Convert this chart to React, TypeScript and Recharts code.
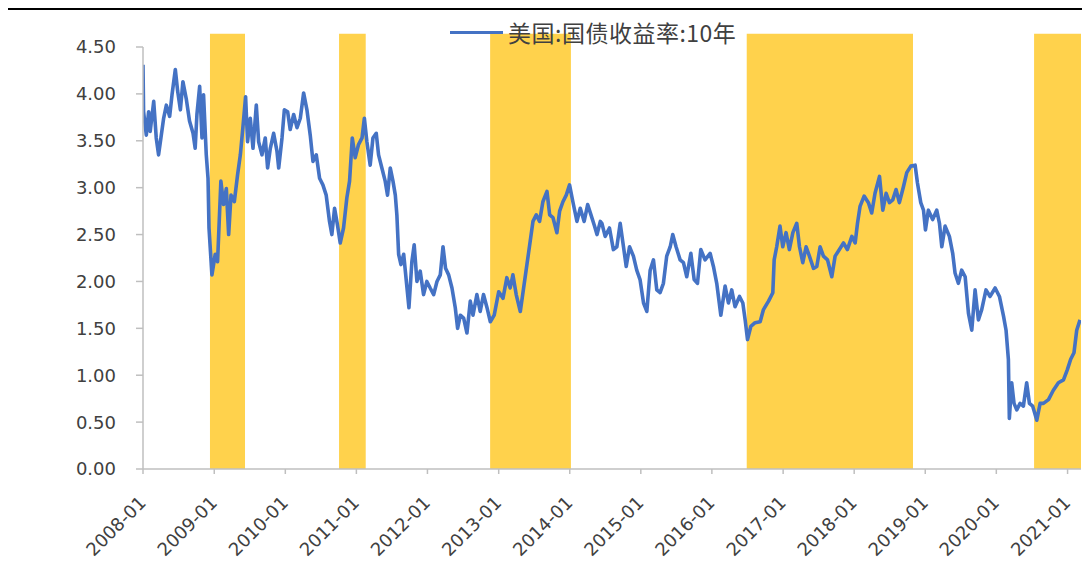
import React from "react";
import {
  ComposedChart,
  Line,
  XAxis,
  YAxis,
  ReferenceArea,
  Legend,
} from "recharts";

// US 10y treasury yield: observation day (days since 2008-01-01) and yield in %
const daysSince2008 = [
  0, 3, 17, 29, 37, 55, 68, 80, 92, 106, 120, 137, 149, 166, 178, 192, 205, 222,
  239, 257, 268, 277, 291, 303, 311, 325, 334, 339, 354, 371, 383, 400, 414, 428,
  440, 452, 469, 486, 500, 513, 527, 537, 551, 565, 582, 594, 611, 628, 640, 654,
  671, 688, 697, 714, 726, 743, 756, 774, 791, 808, 825, 842, 859, 873, 890, 907,
  924, 941, 958, 970, 984, 999, 1013, 1030, 1047, 1061, 1075, 1090, 1107, 1125,
  1137, 1150, 1167, 1181, 1198, 1210, 1227, 1244, 1256, 1270, 1284, 1296, 1304,
  1313, 1325, 1339, 1356, 1366, 1381, 1393, 1407, 1424, 1441, 1458, 1475, 1493,
  1510, 1527, 1541, 1554, 1570, 1587, 1604, 1616, 1630, 1647, 1664, 1681, 1695,
  1715, 1732, 1749, 1767, 1784, 1804, 1827, 1849, 1869, 1886, 1900, 1917, 1938,
  1955, 1972, 1989, 2003, 2020, 2037, 2054, 2075, 2089, 2106, 2126, 2140, 2157,
  2174, 2191, 2208, 2229, 2246, 2266, 2284, 2301, 2318, 2332, 2349, 2357, 2374,
  2396, 2416, 2434, 2451, 2468, 2482, 2499, 2519, 2536, 2553, 2571, 2588, 2605,
  2622, 2639, 2656, 2673, 2690, 2708, 2721, 2738, 2759, 2776, 2793, 2814, 2831,
  2848, 2865, 2887, 2913, 2930, 2947, 2968, 2990, 3007, 3024, 3041, 3064, 3081,
  3093, 3105, 3122, 3144, 3170, 3187, 3213, 3235, 3242, 3255, 3272, 3286, 3303,
  3320, 3338, 3358, 3372, 3389, 3406, 3423, 3444, 3461, 3478, 3495, 3516, 3538,
  3555, 3577, 3598, 3618, 3641, 3658, 3670, 3683, 3704, 3726, 3743, 3760, 3783,
  3800, 3817, 3834, 3851, 3868, 3885, 3906, 3923, 3944, 3966, 3978, 3995, 4009,
  4019, 4034, 4056, 4077, 4091, 4103, 4120, 4142, 4159, 4171, 4188, 4205, 4223,
  4240, 4257, 4274, 4291, 4308, 4330, 4351, 4377, 4399, 4420, 4433, 4445, 4450,
  4462, 4474, 4488, 4505, 4522, 4539, 4553, 4570, 4591, 4608, 4625, 4651, 4676,
  4702, 4728, 4748, 4765, 4782, 4796, 4813,
];

const yields = [
  4.31, 3.81, 3.56, 3.81, 3.6, 3.92, 3.53, 3.35, 3.53, 3.74, 3.88, 3.76, 3.99, 4.26, 4.03, 3.83, 4.13, 3.95,
  3.71, 3.58, 3.42, 3.78, 4.08, 3.53, 3.99, 3.35, 3.1, 2.57, 2.07, 2.29, 2.21, 3.07, 2.82, 2.99,
  2.5, 2.92, 2.85, 3.14, 3.35, 3.64, 3.97, 3.49, 3.74, 3.42, 3.88, 3.49, 3.35, 3.53, 3.21, 3.42,
  3.58, 3.39, 3.21, 3.53, 3.83, 3.81, 3.62, 3.78, 3.64, 3.74, 4.01, 3.83, 3.56, 3.28, 3.35, 3.1,
  3.03, 2.92, 2.64, 2.5, 2.78, 2.6, 2.41, 2.57, 2.89, 3.07, 3.53, 3.32, 3.46, 3.53,
  3.74, 3.49, 3.24, 3.53, 3.58, 3.35, 3.21, 3.07, 2.92, 3.21, 3.07, 2.92, 2.71,
  2.29, 2.18, 2.29, 1.93, 1.72, 2.21, 2.39, 2.0, 2.11, 1.86, 2.0, 1.93, 1.86,
  2.0, 2.07, 2.37, 2.14, 2.07, 1.93, 1.72, 1.5, 1.64, 1.61, 1.45, 1.79, 1.64,
  1.86, 1.68, 1.86, 1.72, 1.57, 1.64, 1.89, 1.82, 2.04, 1.93, 2.07, 1.86, 1.68,
  1.93, 2.18, 2.43, 2.64, 2.71, 2.64, 2.85, 2.96, 2.71, 2.68, 2.52, 2.75, 2.85,
  2.92, 3.03, 2.85, 2.64, 2.78, 2.64, 2.82, 2.71, 2.6, 2.5, 2.64, 2.62, 2.48,
  2.57, 2.34, 2.37, 2.62, 2.37, 2.16, 2.37, 2.27, 2.12, 2.02, 1.77, 1.68, 2.12,
  2.23, 1.91, 1.88, 1.98, 2.27, 2.37, 2.5, 2.37, 2.23, 2.2, 2.05, 2.3, 2.02,
  1.98, 2.34, 2.23, 2.3, 2.16, 1.98, 1.64, 1.95, 1.77, 1.91, 1.73, 1.84, 1.77,
  1.59, 1.38, 1.52, 1.56, 1.57, 1.7, 1.79, 1.88, 2.23, 2.37, 2.59, 2.37, 2.52,
  2.34, 2.52, 2.62, 2.37, 2.2, 2.37, 2.27, 2.14, 2.16, 2.37, 2.27, 2.23, 2.05,
  2.27, 2.34, 2.41, 2.34, 2.48, 2.41, 2.62, 2.8, 2.91, 2.84, 2.73, 2.94, 3.12,
  2.76, 2.94, 2.84, 2.87, 2.98, 2.84, 3.01, 3.16, 3.23, 3.24, 3.05, 2.84, 2.76,
  2.55, 2.76, 2.66, 2.76, 2.62, 2.37, 2.59, 2.48, 2.3, 2.09, 1.98, 2.12, 2.05,
  1.66, 1.48, 1.91, 1.59, 1.7, 1.91, 1.84, 1.93, 1.84, 1.63, 1.48, 1.17, 0.54,
  0.92, 0.7, 0.63, 0.7, 0.67, 0.92, 0.7, 0.67, 0.52, 0.7, 0.7, 0.74, 0.84,
  0.92, 0.95, 1.06, 1.17, 1.24, 1.48, 1.59,
];

// shaded periods
const bandStarts = ["2008-12-10", "2010-10-04", "2012-11-18", "2016-06-28", "2020-07-13"];
const bandEnds = ["2009-06-08", "2011-02-18", "2014-01-07", "2018-10-30", "2021-03-11"];

const yTicks = [0, 0.5, 1, 1.5, 2, 2.5, 3, 3.5, 4, 4.5];
const xTickYears = [2008, 2009, 2010, 2011, 2012, 2013, 2014, 2015, 2016, 2017, 2018, 2019, 2020, 2021];

const SERIES_NAME = "美国:国债收益率:10年";
const LINE_COLOR = "#4472C4";
const BAND_COLOR = "#FFD24C";
const AXIS_COLOR = "#BFBFBF";
const TEXT_COLOR = "#404040";
const FONT = "'DejaVu Sans', sans-serif";

const DAY_MS = 86400000;
const toTime = (s: string) => Date.parse(s + "T00:00:00Z");
const START = toTime("2008-01-01");

const series = daysSince2008.map((d, i) => ({ t: START + d * DAY_MS, v: yields[i] }));
const xTicks = xTickYears.map((y) => Date.UTC(y, 0, 1));
const xDomain = [START, toTime("2021-03-11")];

function DateTick({ x, y, payload }: any) {
  const label = `${new Date(payload.value).getUTCFullYear()}-01`;
  const px = x + 4;
  const py = y + 28;
  return (
    <text
      x={px}
      y={py}
      textAnchor="end"
      transform={`rotate(-45 ${px} ${py})`}
      fontSize={18}
      fontFamily={FONT}
      fill={TEXT_COLOR}
    >
      {label}
    </text>
  );
}

function SeriesLegend() {
  return (
    <div style={{ display: "flex", alignItems: "center", height: 26 }}>
      <span style={{ display: "inline-block", width: 53, height: 3, background: LINE_COLOR }} />
      <span
        style={{
          marginLeft: 5,
          fontSize: 23,
          letterSpacing: 0.5,
          fontFamily: "'Noto Sans CJK SC', sans-serif",
          color: TEXT_COLOR,
          whiteSpace: "nowrap",
        }}
      >
        {SERIES_NAME}
      </span>
    </div>
  );
}

export default function App() {
  return (
    <div style={{ width: 1082, borderTop: "2px solid #000" }}>
      <ComposedChart
        width={1082}
        height={556}
        data={series}
        margin={{ top: 37, right: 9, bottom: 0, left: 75 }}
      >
        <XAxis
          dataKey="t"
          type="number"
          scale="time"
          domain={xDomain}
          allowDataOverflow
          ticks={xTicks}
          interval={0}
          height={97}
          tick={<DateTick />}
          tickSize={5}
          tickMargin={2}
          axisLine={{ stroke: AXIS_COLOR, strokeWidth: 1.5 }}
          tickLine={{ stroke: AXIS_COLOR, strokeWidth: 1.5 }}
        />
        <YAxis
          type="number"
          domain={[0, 4.5]}
          allowDataOverflow
          ticks={yTicks}
          interval={0}
          width={60}
          tickFormatter={(v: number) => v.toFixed(2)}
          tick={{ fontSize: 18, fontFamily: FONT, fill: TEXT_COLOR }}
          tickSize={7}
          tickMargin={20}
          axisLine={{ stroke: AXIS_COLOR, strokeWidth: 1.5 }}
          tickLine={{ stroke: AXIS_COLOR, strokeWidth: 1.5 }}
        />
        {bandStarts.map((s, i) => (
          <ReferenceArea
            key={s}
            x1={toTime(s)}
            x2={toTime(bandEnds[i])}
            y1={0}
            y2={4.64}
            ifOverflow="visible"
            fill={BAND_COLOR}
            fillOpacity={1}
            stroke="none"
          />
        ))}
        {/* middle/center keeps the legend from reserving space in the plot offset */}
        <Legend
          layout="horizontal"
          verticalAlign="middle"
          align="center"
          content={<SeriesLegend />}
          wrapperStyle={{ position: "absolute", top: 9, left: 442, width: "auto" }}
        />
        <Line
          type="linear"
          dataKey="v"
          name={SERIES_NAME}
          stroke={LINE_COLOR}
          strokeWidth={3.6}
          strokeLinejoin="round"
          dot={false}
          isAnimationActive={false}
        />
      </ComposedChart>
    </div>
  );
}
